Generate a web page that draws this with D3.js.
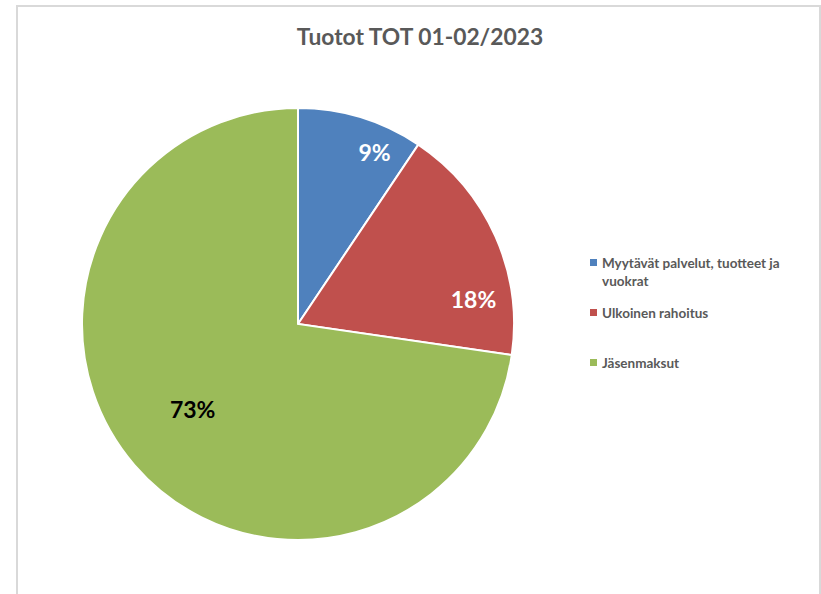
<!DOCTYPE html>
<html><head><meta charset="utf-8">
<script src="https://cdn.jsdelivr.net/npm/d3@7"></script>
<style>body{margin:0;background:#fff}svg{display:block}</style>
</head><body>
<svg id="c" width="821" height="594"></svg>
<script>
const title = "Tuotot TOT 01-02/2023";
const categories = ["Myytävät palvelut, tuotteet ja vuokrat", "Ulkoinen rahoitus", "Jäsenmaksut"];
const values = [9.4, 17.9, 72.7];
const labels = ["9%", "18%", "73%"];
const colors = ["#4f81bd", "#c0504d", "#9bbb59"];
const labelColors = ["#ffffff", "#ffffff", "#000000"];
const legendLines = [["Myytävät palvelut, tuotteet ja", "vuokrat"], ["Ulkoinen rahoitus"], ["Jäsenmaksut"]];

const svg = d3.select("#c");
const font = "Lato, 'Open Sans', sans-serif";
// border
svg.append("path").attr("d","M17,600 V6 H820 V600").attr("fill","none").attr("stroke","#d9d9d9").attr("stroke-width",2);

svg.append("text").attr("x",420).attr("y",45).attr("text-anchor","middle")
  .attr("font-family",font).attr("font-weight","bold").attr("font-size",22.8).attr("fill","#595959").text(title);

const cx=298, cy=324, R=216;
const g = svg.append("g").attr("transform",`translate(${cx},${cy})`);
const pie = d3.pie().sort(null).value(d=>d)(values);
const arc = d3.arc().innerRadius(0).outerRadius(R);
g.selectAll("path").data(pie).join("path").attr("d",arc)
  .attr("fill",(d,i)=>colors[i]).attr("stroke","#fff").attr("stroke-width",2);

// label placement (fraction along slice, radius fraction)
const lblPos = [[0.71,0.87],[0.75,0.82],[0.506,0.63]];
g.selectAll("text.l").data(pie).join("text").attr("class","l")
  .attr("transform",(d,i)=>{const a=d.startAngle+(d.endAngle-d.startAngle)*lblPos[i][0]; const r=R*lblPos[i][1]; return `translate(${r*Math.sin(a)},${-r*Math.cos(a)})`;})
  .attr("text-anchor","middle").attr("dy","0.36em")
  .attr("font-family",font).attr("font-weight","bold").attr("font-size",23)
  .attr("fill",(d,i)=>labelColors[i]).text((d,i)=>labels[i]);

const legY = [268, 318, 368];
const lg = svg.append("g");
categories.forEach((c,i)=>{
  lg.append("rect").attr("x",590).attr("y",legY[i]-9).attr("width",7).attr("height",7).attr("fill",colors[i]);
  const t = lg.append("text").attr("x",602).attr("y",legY[i]).attr("font-family",font).attr("font-weight","bold")
    .attr("font-size",13.5).attr("fill","#595959");
  legendLines[i].forEach((ln,j)=>t.append("tspan").attr("x",602).attr("dy",j?18:0).text(ln));
});
</script>
</body></html>
